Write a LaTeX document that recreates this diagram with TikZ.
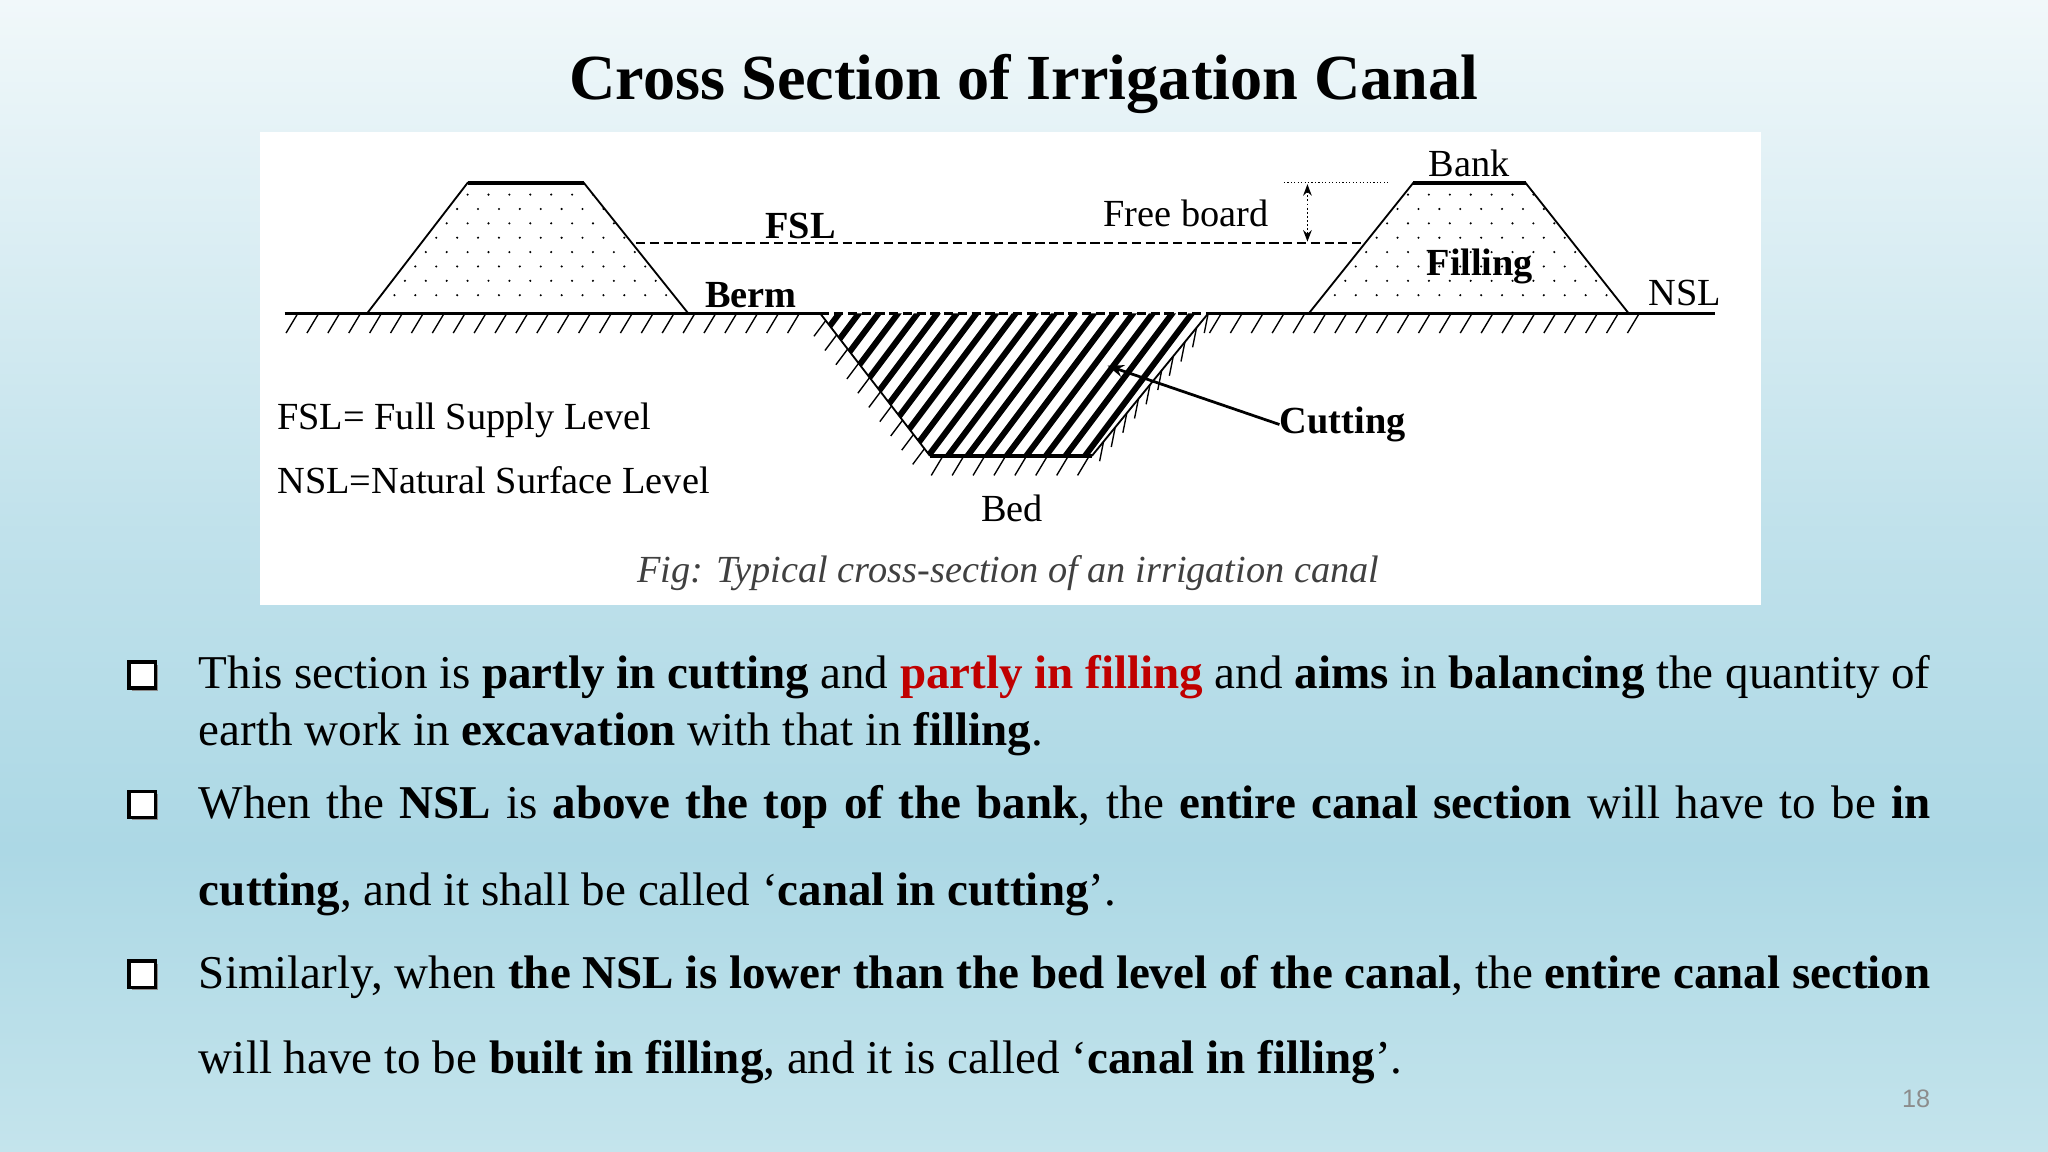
\documentclass[tikz,border=0pt]{standalone}
\usepackage{fontspec}
\setmainfont{Liberation Serif}
\newfontfamily\pnfont{Liberation Sans}
\usetikzlibrary{arrows.meta,calc}
\definecolor{bgtop}{HTML}{F1F8FA}
\definecolor{bgmid}{HTML}{ACD8E5}
\definecolor{bgbot}{HTML}{C4E4EC}
\definecolor{redt}{HTML}{C00000}
\tikzset{
  lbl/.style={font=\fontsize{16.7}{19}\selectfont, inner sep=0pt},
  blbl/.style={font=\bfseries\fontsize{16.7}{19}\selectfont, inner sep=0pt},
  body/.style={font=\fontsize{20.5}{24}\selectfont, inner sep=0pt, anchor=base west},
  gl/.style={line width=1.2pt},
  tick/.style={line width=0.6pt},
}
\begin{document}
\begin{tikzpicture}[x=0.02cm,y=-0.02cm]
\useasboundingbox (0,0) rectangle (1568,882);
\shade[top color=bgtop, bottom color=bgmid!70!bgtop] (0,0) rectangle (1568,400);
\shade[top color=bgmid!70!bgtop, bottom color=bgmid] (0,400) rectangle (1568,650);
\shade[top color=bgmid, bottom color=bgbot] (0,650) rectangle (1568,882);
% title
\node[font=\bfseries\fontsize{28}{32}\selectfont, inner sep=0pt] (title) at (784,64) {Cross Section of Irrigation Canal};
% figure box
\fill[white] (199,101) rectangle (1348,463);
% ground line
\draw[gl] (218,240) -- (628,240);
\draw[gl] (925,240) -- (1313,240);
\foreach \x in {228,244,...,620} \draw[tick] (\x,240) -- ++(-9,15);
\foreach \x in {935,951,...,1270} \draw[tick] (\x,240) -- ++(-9,15);
% banks
\foreach \a/\b/\c/\d in {281/358/447/527, 1002/1082/1168/1247}{
  \begin{scope}
  \clip (\a,240) -- (\b,140) -- (\c,140) -- (\d,240) -- cycle;
  \foreach \yy [count=\i] in {149,160,...,236}{
    \foreach \xx in {270,286,...,1260}{
      \pgfmathsetmacro\off{mod(\i,2)*8}
      \fill (\xx+\off,\yy) circle (0.9);
    }
  }
  \end{scope}
  \draw[line width=0.8pt] (\a,240) -- (\b,140) -- (\c,140) -- (\d,240);
  \draw[line width=2pt] (\b,140) -- (\c,140);
}
% canal
\begin{scope}
\clip (628,240) -- (712,349) -- (836,349) -- (925,240) -- cycle;
\foreach \x in {560,575,...,960} \draw[line width=2.6pt] (\x,350) -- ++(90,-120);
\end{scope}
\draw[line width=0.8pt] (628,240) -- (712,349);
\draw[line width=0.8pt] (925,240) -- (836,349);
\draw[line width=2pt] (712,349) -- (836,349);
\draw[line width=1.2pt, dash pattern=on 4pt off 2pt] (628,240) -- (925,240);
% slope ticks
\foreach \t in {0.05,0.15,...,1.0} \draw[tick] ($(628,240)!\t!(712,349)$) -- ++(-9,12);
\foreach \x in {722,738,...,836} \draw[tick] (\x,349) -- ++(-9,15);
\foreach \t in {0.0,0.1,...,0.95} \draw[tick] ($(925,240)!\t!(836,349)$) -- ++(-3,15);
% FSL
\draw[line width=1.2pt, dash pattern=on 4pt off 2pt] (487,186) -- (1043,186);
% free board
\draw[line width=0.5pt, densely dotted] (983,140) -- (1063,140);
\draw[line width=0.8pt, densely dotted, {Stealth[length=5pt]}-{Stealth[length=5pt]}] (1001,141) -- (1001,185);
% labels
\node[lbl] (bank) at (1125,125) {Bank};
\node[blbl] (fsl) at (613,173) {FSL};
\node[lbl] (fb) at (908,163) {Free board};
\node[blbl] (fill) at (1133,204) {Filling};
\node[lbl] (nsl) at (1290,224) {NSL};
\node[blbl] (berm) at (575,226) {Berm};
\node[blbl] (cut) at (1028,325) {Cutting};
\coordinate (cutp) at (848,280);
\draw[line width=1.2pt, -{Stealth[length=7pt]}] (cut.west) -- (cutp);
\node[lbl] (bed) at (775,389) {Bed};
\node[lbl, anchor=west] (d1) at (212,322) {FSL= Full Supply Level};
\node[lbl, anchor=west] (d2) at (212,368) {NSL=Natural Surface Level};
\node[lbl, font=\itshape\fontsize{16.7}{19}\selectfont, text=black!75] (cap) at (772,439) {Fig: Typical cross-section of an irrigation canal};
% bullets
\foreach \y/\n in {517/b1,616/b2,746/b3}{
  \fill[black!45] (109+2,\y+2) ++(-10,-10) rectangle ++(20,20);
  \node[draw, line width=1.6pt, minimum size=0.4cm, inner sep=0pt, fill=white] (\n) at (109,\y) {};
}
\node[body] (l1) at (152,527) {\makebox[26.52cm][s]{This section is \textbf{partly in cutting} and \textcolor{redt}{\textbf{partly in filling}} and \textbf{aims} in \textbf{balancing} the quantity of}};
\node[body] (l2) at (152,571) {earth work in \textbf{excavation} with that in \textbf{filling}.};
\node[body] (l3) at (152,627) {\makebox[26.52cm][s]{When the \textbf{NSL} is \textbf{above the top of the bank}, the \textbf{entire canal section} will have to be \textbf{in}}};
\node[body] (l4) at (152,693) {\textbf{cutting}, and it shall be called ‘\textbf{canal in cutting}’.};
\node[body] (l5) at (152,757) {\makebox[26.52cm][s]{Similarly, when \textbf{the NSL is lower than the bed level of the canal}, the \textbf{entire canal section}}};
\node[body] (l6) at (152,822) {will have to be \textbf{built in filling}, and it is called ‘\textbf{canal in filling}’.};
\node[font=\pnfont\fontsize{11}{13}\selectfont, text=black!45, inner sep=0pt] (pn) at (1467,841) {18};
\end{tikzpicture}
\end{document}
